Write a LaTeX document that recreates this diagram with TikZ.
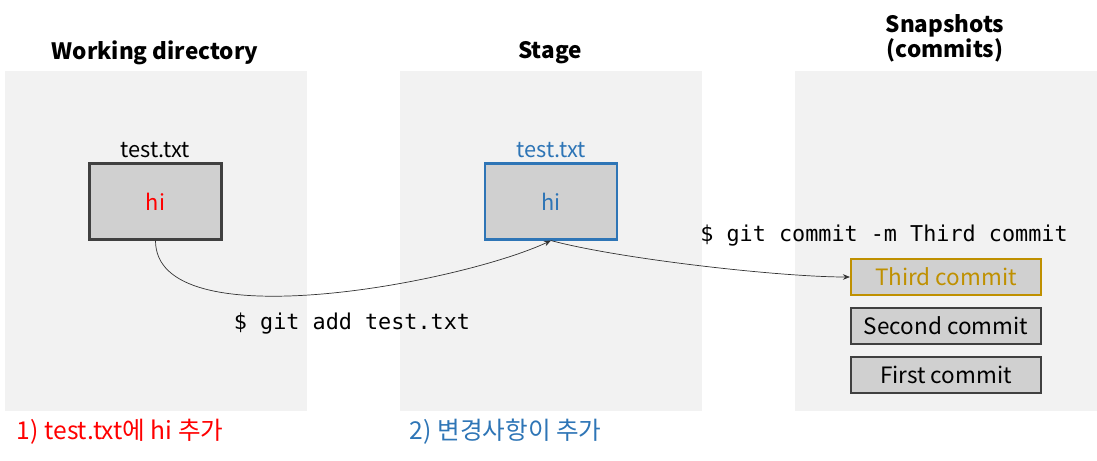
\documentclass[tikz,border=0pt]{standalone}
\usepackage{fontspec}
\setmainfont{Noto Sans CJK KR}
\setmonofont{DejaVu Sans Mono}
\usetikzlibrary{arrows.meta,positioning}
\definecolor{panelgray}{HTML}{F2F2F2}
\definecolor{boxgray}{HTML}{D0D0D0}
\definecolor{edgegray}{HTML}{404040}
\definecolor{stageblue}{HTML}{2E75B6}
\definecolor{commitgold}{HTML}{BF9000}
\begin{document}
\begin{tikzpicture}[x=0.025cm, y=-0.025cm, thin,
	panel/.style = {fill=panelgray, anchor=north west, minimum width=7.55cm, minimum height=8.5cm, inner sep=0pt},
	title/.style = {font=\fontsize{16}{18}\selectfont\bfseries, align=center},
	filebox/.style = {draw=edgegray, line width=1.5pt, fill=boxgray, minimum width=3.3cm, minimum height=1.9cm, font=\fontsize{15.5}{17}\selectfont},
	commit/.style = {draw=edgegray, line width=1.5pt, fill=boxgray, minimum width=4.75cm, minimum height=0.9cm, font=\fontsize{16}{18}\selectfont},
	cmd/.style = {font=\ttfamily\fontsize{15.5}{17}\selectfont},
	note/.style = {font=\fontsize{17.5}{19}\selectfont, anchor=west},
	flow/.style = {-{Stealth[length=5pt,width=4pt]}, draw=black!80, line width=0.5pt}]
	\useasboundingbox (0,0) rectangle (1097,460);
	%Three panels
	\node[panel] (work) at (5,71) {};
	\node[panel] (stage) at (400,71) {};
	\node[panel] (snap) at (795,71) {};
	\node[title] (worktitle) at (155,53) {Working directory};
	\node[title] (stagetitle) at (550,53) {Stage};
	\node[title] (snaptitle) at (945,38) {Snapshots\\(commits)};
	
	%Files
	\node[filebox] (wfile) at (155.5,201.5) {\textcolor{red}{hi}};
	\node[filebox, draw=stageblue, text=stageblue] (sfile) at (551,201.5) {hi};
	\node[font=\fontsize{15.5}{17}\selectfont] (wname) [above=0pt of wfile] {test.txt};
	\node[font=\fontsize{15.5}{17}\selectfont, text=stageblue] (sname) [above=0pt of sfile] {test.txt};
	
	%Commits
	\node[commit, draw=commitgold, text=commitgold] (third) at (946,277) {Third commit};
	\node[commit] (second) [below=0.27cm of third] {Second commit};
	\node[commit] (first) [below=0.27cm of second] {First commit};
	
	%Commands
	\node[cmd] (addcmd) at (352,324) {\$ git add test.txt};
	\node[cmd] (commitcmd) at (884,236) {\$ git commit -m Third commit};
	
	%Arrows
	\draw[flow] (wfile.south) to[out=-90, in=-155, looseness=0.65] (sfile.south);
	\draw[flow] (sfile.south) to[out=-15, in=180, looseness=0.6] (third.west);
	
	%Notes
	\node[note, text=red] (note1) at (12,432) {1) test.txt에 hi 추가};
	\node[note, text=stageblue] (note2) at (405,432) {2) 변경사항이 추가};
\end{tikzpicture}
\end{document}
